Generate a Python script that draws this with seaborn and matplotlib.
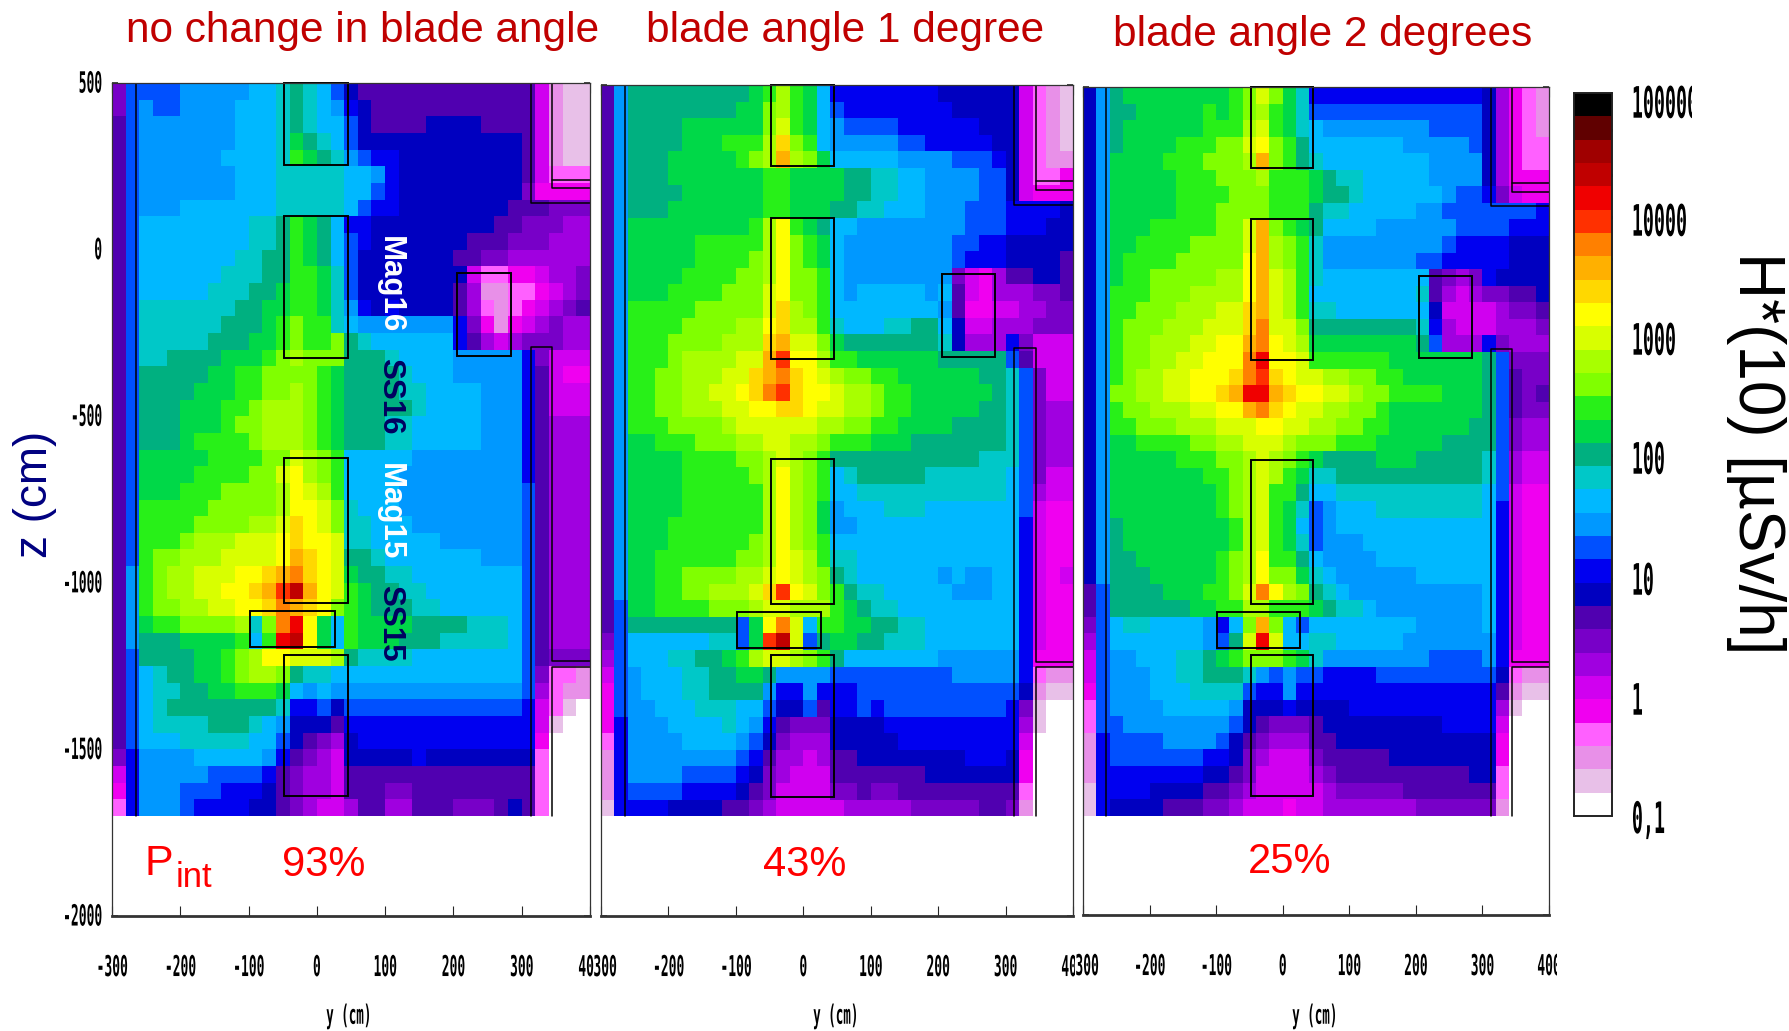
import numpy as np
import seaborn as sns
import matplotlib.pyplot as plt
from matplotlib.colors import ListedColormap
from matplotlib.patches import Rectangle
from matplotlib.patheffects import AbstractPathEffect
from matplotlib.transforms import Affine2D, Bbox

W, H = 1790, 1031

# dose band colours, bottom of the colour bar to the top
band_colors = ['#ffffff', '#e8c0e8', '#e890e8', '#ff60ff', '#f000f0', '#d000f0', '#a000e0', '#7800c8',
               '#5000b0', '#0000c0', '#0000f0', '#0050ff', '#0098ff', '#00b8ff', '#00c8c8', '#00b080',
               '#00d848', '#28f018', '#80ff00', '#a8ff00', '#d8ff00', '#ffff00', '#ffd800', '#ffb000',
               '#ff8000', '#ff3000', '#f00000', '#c00000', '#a00000', '#600000', '#000000']
codes = '0123456789abcdefghijklmnopqrstu'

# band index per cell, one char per 20 cm in y, one row per 50 cm in z (z=500 down to z=-1700)
panel_1 = [
    "7bbbb ccccc ddefe db988 88888 88888 85211",
    "7bcbb ccccd ddefe dca98 88888 88888 85211",
    "8bccc ccccd ddefe ddb98 88899 99888 85211",
    "8bccc ccccd ddegf edb99 99999 99999 85211",
    "8bccc cccdd ddehg fecba a9999 99999 85211",
    "8bccc ccccd ddeee eeddc a9999 99999 85333",
    "8bccc ccccd ddeee eeddb a9999 99999 74444",
    "8bccc ddddd ddeee eedba a9999 99998 88777",
    "8bddd ddddd eefhg fdaa9 99999 99988 77766",
    "8bddd ddddd eefhg fdba9 99999 98887 77666",
    "8bddd dddde effhg fdb99 99999 88776 66666",
    "8bddd dddee effhh geb99 99999 95334 45667",
    "8bddd ddeee ffghh geb99 99999 86223 34567",
    "8beee eeeef fgghh geca9 a9999 86323 45678",
    "8beee eeeff fghih hedcc ccccc a7424 56766",
    "8beee eefff gghih hifed ddddd a8656 77766",
    "8beef fffgg ghiji iifff edddd ccccc a7555",
    "8bfff ffggh hiiii hgfff feddd ccccc a8544",
    "8bfff fgggh hiiji hgfff feedd ddccc a8555",
    "8bfff ggghh ijjji hgfff ffedd ddccc a8555",
    "8bfff ggghi ijjji hgfff eeddd ddccc a8666",
    "8bfff ghhhh ijjji hgfff eeddd ddccc a8666",
    "8bggg gghhh hiikj ihddd ddccc ccccc a8666",
    "8bggg ghhhh iiklj ihddd dcccc ccccc a8666",
    "8bggg hhhii iijlk jhddd dcccc ccccc b8666",
    "8bhhh hhiii iijll kiedd dcccc ccccc b8666",
    "8bhhh hiiii jjkml kieed ddccc ccccc b8666",
    "8bhhh ijjjk kklml lkeed ddddc ccccc b8666",
    "8bhii jjjkk kklnm lkffe ddddd ddccc b8666",
    "8chij jkkkl lmnom lkgff eeddd ddddd b8666",
    "8chij jkkll mnprn lkhgf feedd ddddd b8666",
    "8chii jjkkl lmonm lihgf ffeed ddddd b8666",
    "8cghh iiiij eioql gdhgg ggfff feeed b8666",
    "8cfff ggggh dhqrl gdhgg gfffe eeeed b8666",
    "8bfff fgghi jllkk kjfee eeddd ddddd b8777",
    "8bdef fgghi jjife edddd ddddd ddddd b7332",
    "8bdee ffggh hhgdc dcccc ccccc ccccc b6322",
    "8bdef fffff ffeaa b9bbb bbbbb bbbbb a5310",
    "8bdee eefff edc99 98aaa aaaaa aaaaa a5100",
    "8bddd eeeee ddb98 769aa aaaaa aaaaa a4000",
    "7accc cdddd dca87 65999 99a99 99999 93000",
    "5accc ccbbb ba876 65888 88888 88888 83000",
    "4accc bbbaa a9876 65888 77888 88888 83000",
    "3accc baaaa 99876 55688 66888 77789 83000",
]
panel_2 = [
    "8cfff fffff fghjh gdaaa aaaaa 99999 95321",
    "8cfff fffff ggijh gdbaa aaaaa a9999 95321",
    "8cfff fgggg ggikh gdcbb bbaaa aaa99 95321",
    "8cfff fgggh hhjmi hdccc ccbba aaaa9 95321",
    "8cfff ggggg hijnj igddd ddccc cbbba 95322",
    "8cfff ggggg gghhg gggff eeddc cccbb 95334",
    "8cfff fgggg gghhg gggff eeddc cccbb 95444",
    "8cfff ggggg gghhg ggffe edddc ccbbb aaaa9",
    "8cggg ggggg ghjlh gfddc ccccc ccbbb aaa99",
    "8cggg gghhh hhjli hgdcc ccccc cbbaa 99999",
    "8cggg gghhh hijli hgdcc ccccc cbaaa 99998",
    "8cggg ghhhh iijli ihdcc ccccc c7546 88998",
    "8cggg hhhhi iikli ihdcd ddddc d8546 66778",
    "8chhh hhiii iikmj ihddd ddddd c8445 56677",
    "8chhh hiiii jjlmj jhedd deeff d9556 66777",
    "8chhh iiiij jjmnk kigff fffff e9666 a7555",
    "8chhh ijjjj kknpl ljhhg ggggg fffff b8555",
    "8chhi ijjjk kmnom lkjii hhggg gggff eb755",
    "8chhi ijjkk lmopm llkjj ihhgg ggggf eb755",
    "8chhi ijjjk kllmm lkkjj ihhgg gggff eb766",
    "8chhh iiiij kkkkk kjjii hhggg gffff eb766",
    "8cggh hhiii jjkkj jihhh gggff fffff eb766",
    "8cggg ghhhh iijkj ihfff fffff fffee eb766",
    "8cggg ghhhh hijlj ihdef ffffe eeeee db755",
    "8cggg ghhhh hhjlj ihdde eeeee eeeee db655",
    "8cggg ghhhh hhjlj igcdd deeed ddddd db544",
    "8cggg hhhhh hhjlj igccd ddddd ddddd da544",
    "8cggg hhhhh hijlj ihddd ddddd ddddd da544",
    "8cggh hhhhh iijlk jheed ddddd ddddd da544",
    "8cggh hiiii jjklk jifed ddddd cdccd da545",
    "8cggh hiijj jkmpl kihfe edddd dcccd da544",
    "8bggh hhhii ijkkj jjhgf eeddd ddddd da544",
    "8bfff fffff bglok dhhgg ffeed ddddd da544",
    "7bddd dddee bgprk bfggf feeed ddddd da544",
    "6bddd eeffg hjkkj ihfdd ddddd ccccc ca444",
    "5bcdd deeff ggfcc ccbbb bbbbb bcccc ca322",
    "4bcdd deeff ffcaa caaab bbbbb bbbbb b9211",
    "4bccd ddeee ddb99 b8aab abbbb bbbbb a7100",
    "4accc dddde dca87 77999 9aaaa aaaaa a6100",
    "3accc cdddd cb976 66999 99aaa aaaaa a5000",
    "2accc ccccc ba866 56889 99999 99aaa 94000",
    "2accc cbbbb a9765 55888 88889 99999 94000",
    "2abbb baaaa 98755 55778 77888 88888 83000",
    "1aaaa 99998 87655 55566 66677 77788 72000",
]
panel_3 = [
    "9cfgg ggggg ghiki geaaa aaaaa aaaaa 96432",
    "9cffg ggggh ghijh gebbb bbbbb bbbbb 96432",
    "9cfgg ggggh hhjkh gedcc ccccc cbbbb 96432",
    "9cfgg gghhh iikli hfddd ddddc ccccb 96433",
    "9cggg ghhhi iijni hfedd ddddd dcccc 96433",
    "9cggg gghhh iiijh hhgfe edddd dcccc 96444",
    "9cggg gghhh hiiih hhgff edddd ddcbb a7544",
    "9cggg gghhh iiiih hhfee ddddd ccbbb bbbba",
    "9cggg hhhhh iikni hgfdd ddccc cccbb bbaaa",
    "9cggh hhhii iiknj ihecc ccccc ccbaa aa999",
    "9cghh hhiii iilnj ihecc ccccc bbaaa aa999",
    "9cghh iiiii jjlnk jhedd ddddd d8767 a9999",
    "9chhh iiijj jjlnk jhddd ddddd e8656 77889",
    "9chhi iijjj kkmnk jheed ddddd d9555 56778",
    "9chii ijjjk kkmok kifff fffff ea655 56667",
    "9chii jjjkk llnol kjggg ggggg fb666 a7666",
    "9chii jjkkl lloql lkhhh hhhgg ggggg fb777",
    "9chij jkkll lmopm lkkjj iihhg ggggg fb877",
    "9ciij jkkll mnqqn mllkk jiihh hhggg fb878",
    "9chii jjjkk llnom lkkjj iihgg ggggg fb877",
    "9chhi iijjj kkkll kkjji ihhgg ggggf fb766",
    "9cggh hhhii jjkkk jiiih hhggg ggfff fb766",
    "9cggg gghhh iijkj ihgff ffggg fffff eb655",
    "9cggg ggggh hijkj hgeef fffff fffff eb655",
    "9cggg ggggg hijkh hfdde eeeee eeeee db544",
    "9cggg ggggg hijkh gebcd ddeee eeeee da544",
    "9cfgg ggggg ghjkh gdbcd ddddd ddddd da544",
    "9cfgg ggggg ghjkh gebcc cdddd ddddd da544",
    "9cffg ggggg hijlh hfdcc ccddd ddddd da544",
    "9cfff ggggg hijli igedc ccccc ddddd da544",
    "8bfff fgggh hikol jifed ccccc ccccc da544",
    "8bfff fffgg hhjjh hhgfe edccc ccccc da544",
    "7bdee ddddc adini dbddd ddddd ccccc da544",
    "6bddd ddddc bfkqk ddeed ddddc ccccc ca544",
    "5bccd ddeef ghiii hgecc ccccc cbbbb ca444",
    "5bccc ddeef ffecb cbbaa aabbb bbbbb b9322",
    "4bccc dddee eebaa caaaa aaaaa aaaaa a8211",
    "3bccc cdddd dc999 a9999 aaaaa aaaaa a6100",
    "3bbcc ccccc cb987 77899 99999 99aaa a5000",
    "2abbb bcccc b9876 66889 99999 99999 94000",
    "2abbb bbbba a9765 55788 88899 99999 94000",
    "2aaaa aaaa9 98755 55678 88888 88889 93000",
    "1aaaa 99998 87655 55567 77778 88888 83000",
    "1a999 98887 76555 45566 66666 77777 72000",
]

titles = ['no change in blade angle', 'blade angle 1 degree', 'blade angle 2 degrees']
pint_values = ['93%', '43%', '25%']
y_ticks = [-300, -200, -100, 0, 100, 200, 300, 400]
z_ticks = [500, 0, -500, -1000, -1500, -2000]
cbar_labels = ['100000', '10000', '1000', '100', '10', '1', '0,1']
cbar_ticks = [28.9, 27.0, 25.2, 23.4, 21.5, 20.1, 18.5, 16.5, 15.0, 13.1, 11.4, 9.65, 7.9, 6.1, 4.6, 2.9, 1.0]

# geometry in cm: y0, y1, z0, z1
boxes = [(-48, 46, 255, 500), (-48, 46, -324, 100), (-48, 46, -1062, -626), (-98, 26, -1194, -1086),
         (-48, 46, -1641, -1216), (205, 284, -318, -70)]
walls = [[(-265, 500), (-265, -1700)],
         [(313, 500), (313, 140), (400, 140)],
         [(345, 500), (345, 184), (400, 184)],
         [(345, 210), (400, 210)],
         [(313, -1700), (313, -292), (345, -292), (345, -1235), (400, -1235)],
         [(400, -1252), (345, -1252), (345, -1700)]]


class Squash(AbstractPathEffect):
    # the plot labels are a stretched bitmap font, so scale the glyph outlines
    def __init__(self, sx, sy, px=0.5):
        super().__init__()
        self.sx, self.sy, self.px = sx, sy, px

    def draw_path(self, renderer, gc, tpath, affine, rgbFace=None):
        box = tpath.get_extents()
        cx = box.x0 + self.px * box.width
        cy = box.y0 + box.height / 2
        t = Affine2D().translate(-cx, -cy).scale(self.sx, self.sy).translate(cx, cy)
        renderer.draw_path(gc, tpath, t + affine, rgbFace)


def parse(rows):
    rows = [r.replace(' ', '') for r in rows]
    bad = [i for i, r in enumerate(rows) if len(r) != 35]
    assert not bad, bad
    return np.array([[codes.index(c) for c in r] for r in rows])


def add_axes(x0, y0, x1, y1):
    return fig.add_axes([x0 / W, 1 - y1 / H, (x1 - x0) / W, (y1 - y0) / H])


def ftext(x, y, s, **kw):
    return fig.text(x / W, 1 - y / H, s, **kw)


def clip_x(label, x0, x1):
    label.set_clip_box(Bbox([[x0, 0], [x1, H]]))
    label.set_clip_on(True)


sns.set_style('white')
plt.rcParams['font.family'] = ['Liberation Sans', 'DejaVu Sans']

fig = plt.figure(figsize=(W / 100, H / 100), dpi=100)
cmap = ListedColormap(band_colors)
mono = dict(family='DejaVu Sans Mono', fontsize=12, color='black', fontweight='bold')

frames = [(112, 83, 590, 916), (601, 85, 1073, 916), (1083, 87, 1549, 915)]
label_clips = [(90, 594), (594, 1075), (1075, 1557)]
cax = add_axes(1574, 93, 1612, 816)

for i, rows in enumerate([panel_1, panel_2, panel_3]):
    ax = add_axes(*frames[i])
    sns.heatmap(parse(rows), ax=ax, cmap=cmap, vmin=-0.5, vmax=30.5, xticklabels=False, yticklabels=False,
                cbar=i == 0, cbar_ax=cax if i == 0 else None)
    ax.set_xlim(0, 35)
    ax.set_ylim(50, 0)
    for s in ax.spines.values():
        s.set_visible(True)
        s.set_color('#333333')
        s.set_linewidth(0.9)
    ax.spines['bottom'].set_linewidth(2)

    for y0, y1, z0, z1 in boxes:
        ax.add_patch(Rectangle(((y0 + 300) / 20, (500 - z1) / 50), (y1 - y0) / 20, (z1 - z0) / 50,
                               fill=False, ec='black', lw=1.4, clip_on=False))
    for w in walls:
        ax.plot([(p[0] + 300) / 20 for p in w], [(500 - p[1]) / 50 for p in w], color='black', lw=1.1)

    ax.set_xticks([(v + 300) / 20 for v in y_ticks])
    ax.set_xticklabels([str(v) for v in y_ticks], rotation=0, **mono)
    ax.set_yticks([(500 - v) / 50 for v in z_ticks])
    ax.tick_params(axis='x', which='both', direction='in', length=7, width=0.8, top=True, bottom=True, pad=30)
    ax.tick_params(axis='y', which='both', direction='in', length=4, width=1.2, left=True, right=True, pad=7)
    for lab in ax.get_xticklabels():
        lab.set_path_effects([Squash(0.78, 1.72)])
        clip_x(lab, *label_clips[i])
    if i == 0:
        ax.set_yticklabels([str(v) for v in z_ticks], rotation=0, va='center', **mono)
        for lab in ax.get_yticklabels():
            lab.set_path_effects([Squash(0.78, 1.75, px=1.0)])
    else:
        ax.set_yticklabels([])

# colour bar
cax.set_yticks(cbar_ticks)
cax.set_yticklabels([])
cax.tick_params(axis='y', direction='in', length=5, width=2, left=True, right=True, color='black')
for s in cax.spines.values():
    s.set_visible(True)
    s.set_color('#222222')
    s.set_linewidth(1.2)

for lab, y in zip(cbar_labels, [103, 221, 340, 459, 580, 700, 820]):
    t = ftext(1632, y, lab, ha='left', va='center', **mono)
    t.set_path_effects([Squash(1.1, 2.6, px=0.0)])
    clip_x(t, 1600, 1692)

for x in [349, 836, 1315]:
    t = ftext(x, 1016, 'y (cm)', ha='center', va='center', **mono)
    t.set_path_effects([Squash(0.75, 1.6)])

# slide annotations on top
title_pos = [(363, 31), (845, 31), (1323, 35)]
for s, (x, y) in zip(titles, title_pos):
    ftext(x, y, s, ha='center', va='center', fontsize=30.5, color='#c00000')

for x, y, s, col in [(390, 285, 'Mag16', 'white'), (390, 396, 'SS16', '#000060'),
                     (390, 512, 'Mag15', 'white'), (390, 623, 'SS15', '#000060')]:
    ftext(x, y, s, ha='center', va='center', rotation=-90, fontsize=22.5, fontweight='bold', color=col)

ftext(35, 494, 'z (cm)', ha='center', va='center', rotation=90, fontsize=33, color='#000080')
ftext(1756, 453, 'H*(10) [µSv/h]', ha='center', va='center', rotation=-90, fontsize=46, color='black')

ftext(145, 875, 'P', ha='left', va='baseline', fontsize=31, color='#ff0000')
ftext(176, 887, 'int', ha='left', va='baseline', fontsize=25, color='#ff0000')
for x, y, s in zip([324, 805, 1290], [876, 876, 873], pint_values):
    ftext(x, y, s, ha='center', va='baseline', fontsize=30, color='#ff0000')

fig.savefig('out.png', dpi=100)
